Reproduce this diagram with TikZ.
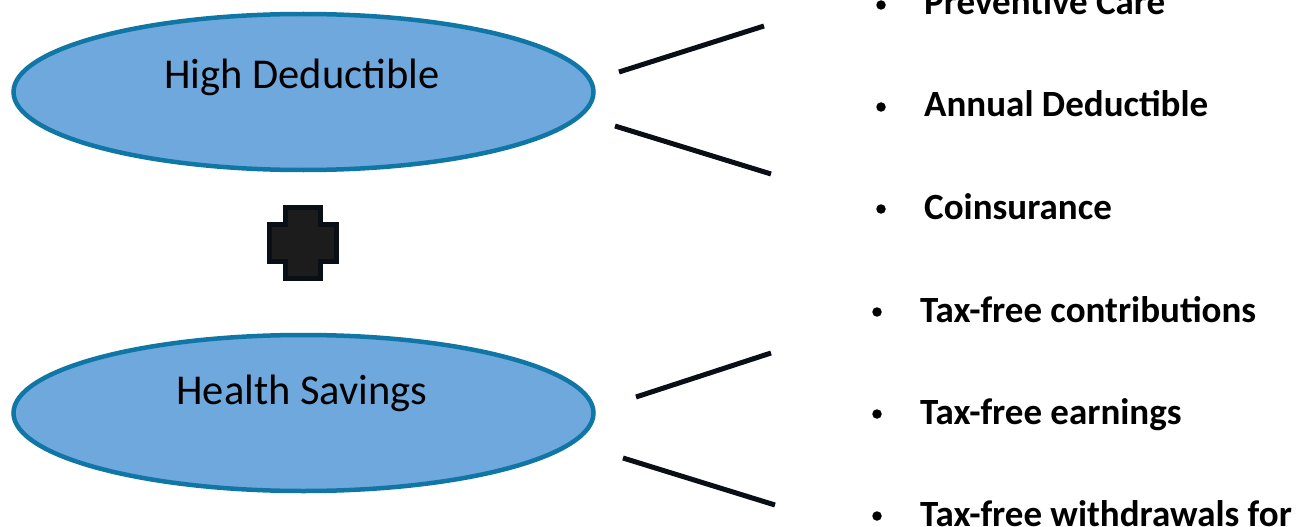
\documentclass[tikz,border=0pt]{standalone}
\usepackage{fontspec}
\setmainfont{Carlito}
\usetikzlibrary{positioning,shapes.geometric}

\definecolor{planfill}{RGB}{111,168,220}
\definecolor{planedge}{RGB}{16,118,165}
\definecolor{inkdark}{RGB}{10,15,22}
\definecolor{crossfill}{RGB}{28,28,28}

\tikzset{
  plan/.style={ellipse, draw=planedge, fill=planfill, line width=4.5pt,
    minimum width=580pt, minimum height=156pt, inner sep=0pt},
  plantext/.style={font=\fontsize{42.5}{42.5}\selectfont, text=black},
  item/.style={anchor=base west, font=\fontsize{37}{37}\selectfont\bfseries, inner sep=0pt},
  dot/.style={circle, fill=black, minimum size=9.5pt, inner sep=0pt},
  link/.style={draw=inkdark, line width=5pt}
}

\begin{document}
\begin{tikzpicture}[x=1pt, y=-1pt]
        \useasboundingbox (0,0) rectangle (1302,527);
        % plans
        \node[plan] (hd) at (303.5,92) {};
        \node[plantext] (hdtext) at (302,77) {High Deductible};
        \node[plan] (hs) at (303.5,413) {};
        \node[plantext] (hstext) at (302,393) {Health Savings};
        % plus sign
        \draw[inkdark, fill=crossfill, line width=5pt]
            (285.5,207.5) -- (320.5,207.5) -- (320.5,224.5) -- (336.5,224.5)
            -- (336.5,261.5) -- (320.5,261.5) -- (320.5,278.5) -- (285.5,278.5)
            -- (285.5,261.5) -- (269.5,261.5) -- (269.5,224.5) -- (285.5,224.5) -- cycle;
        % high deductible items
        \node[item] (care) at (924,15) {Preventive Care};
        \node[item] (annual) at (924,117) {Annual Deductible};
        \node[item] (coins) at (924,219) {Coinsurance};
        \node[dot] (d1) at (881,5) {};
        \node[dot] (d2) at (881,107) {};
        \node[dot] (d3) at (881,209) {};
        % health savings items
        \node[item] (contrib) at (920,322) {Tax-free contributions};
        \node[item] (earn) at (920,424) {Tax-free earnings};
        \node[item] (withdraw) at (920,526) {Tax-free withdrawals for};
        \node[dot] (d4) at (877,312) {};
        \node[dot] (d5) at (877,414) {};
        \node[dot] (d6) at (877,516) {};
        % connectors
        \coordinate (a1) at (619,72);
        \coordinate (a2) at (764,26);
        \coordinate (b1) at (615,126);
        \coordinate (b2) at (771,174);
        \coordinate (c1) at (636,397);
        \coordinate (c2) at (771,353);
        \coordinate (e1) at (623,458);
        \coordinate (e2) at (775,505);
        \draw[link] (a1) -- (a2);
        \draw[link] (b1) -- (b2);
        \draw[link] (c1) -- (c2);
        \draw[link] (e1) -- (e2);
    \end{tikzpicture}
\end{document}
